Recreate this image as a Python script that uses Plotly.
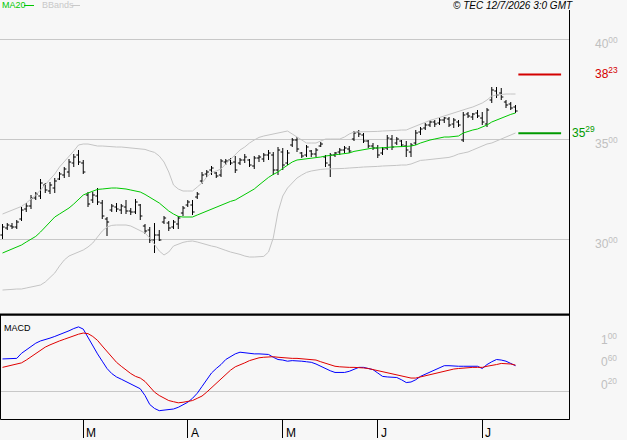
import plotly.graph_objects as go

W, H = 627, 440

# ---------------- data ----------------
month_labels = ["M", "A", "M", "J", "J"]
month_tick_idx = [17, 39, 59, 79, 101]

open_ = [30.20, 30.55, 30.65, 30.60, 31.00, 31.50, 31.65, 32.05, 32.15, 32.70,
         32.40, 32.55, 33.00, 33.20, 33.35, 33.80, 34.20, 33.80, 32.20, 31.95,
         32.15, 31.80, 31.00, 31.45, 31.60, 31.45, 31.60, 31.40, 31.35, 31.70,
         30.65, 30.45, 29.95, 30.20, 30.85, 30.80, 30.60, 30.75, 31.30, 31.70,
         31.70, 32.10, 32.90, 33.25, 33.45, 33.30, 33.20, 33.85, 33.95, 33.85,
         33.80, 33.95, 33.95, 33.65, 34.05, 34.00, 34.20, 34.20, 33.45, 34.35,
         33.80, 34.70, 34.95, 34.30, 34.20, 34.40, 34.25, 34.65, 34.10, 33.70,
         34.20, 34.35, 34.45, 34.50, 35.00, 35.35, 35.20, 34.90, 34.65, 34.55,
         34.30, 34.55, 35.00, 34.80, 34.90, 34.65, 34.35, 34.80, 35.35, 35.55,
         35.70, 35.85, 35.80, 35.95, 36.00, 35.75, 35.85, 34.95, 36.25, 36.10,
         36.30, 36.05, 35.75, 36.95, 37.40, 37.30, 36.85, 36.75, 36.60]
high = [30.75, 30.80, 30.80, 30.95, 31.60, 31.80, 32.20, 32.35, 33.00, 32.80,
        32.85, 33.05, 33.35, 33.60, 34.00, 34.25, 34.45, 33.95, 32.35, 32.35,
        32.55, 31.95, 31.10, 31.75, 31.80, 31.75, 31.95, 31.55, 32.00, 31.75,
        30.75, 30.60, 30.80, 30.45, 31.15, 30.90, 30.95, 31.15, 31.65, 31.95,
        31.95, 32.35, 33.35, 33.45, 33.65, 33.35, 34.00, 34.00, 34.05, 34.15,
        34.05, 34.25, 34.00, 34.15, 34.20, 34.30, 34.45, 34.35, 34.60, 34.55,
        34.45, 35.05, 35.10, 34.35, 34.70, 34.45, 34.55, 34.85, 34.20, 34.30,
        34.35, 34.55, 34.65, 34.65, 35.40, 35.45, 35.30, 34.95, 34.80, 34.70,
        34.60, 35.20, 35.20, 35.10, 34.95, 34.90, 34.80, 35.45, 35.60, 35.80,
        35.95, 35.95, 36.05, 36.10, 36.10, 36.05, 35.95, 36.35, 36.35, 36.30,
        36.45, 36.35, 36.55, 37.60, 37.60, 37.55, 36.95, 36.85, 36.70]
low = [30.00, 30.45, 30.50, 30.50, 30.90, 31.35, 31.50, 31.95, 32.00, 32.30,
       32.25, 32.30, 32.95, 33.05, 33.10, 33.60, 33.70, 33.25, 31.60, 31.80,
       31.70, 31.00, 30.15, 31.35, 31.35, 31.25, 31.25, 31.20, 31.25, 30.95,
       30.25, 29.80, 29.30, 29.90, 30.75, 30.40, 30.50, 30.50, 31.15, 31.60,
       31.20, 32.00, 32.75, 33.10, 33.20, 33.05, 33.10, 33.70, 33.70, 33.30,
       33.70, 33.80, 33.60, 33.50, 33.85, 33.85, 33.95, 33.20, 33.20, 33.45,
       33.70, 34.60, 34.35, 34.05, 34.10, 34.10, 34.10, 34.60, 33.60, 33.10,
       34.10, 34.20, 34.30, 34.30, 34.90, 35.10, 34.80, 34.55, 34.45, 34.05,
       34.20, 34.45, 34.45, 34.70, 34.60, 34.10, 34.10, 34.70, 35.20, 35.45,
       35.60, 35.60, 35.70, 35.80, 35.60, 35.55, 35.60, 34.85, 36.05, 35.95,
       36.05, 35.70, 35.60, 36.80, 37.05, 36.95, 36.55, 36.45, 36.30]
close = [30.60, 30.70, 30.60, 30.85, 31.45, 31.65, 32.05, 32.25, 32.80, 32.45,
         32.70, 32.90, 33.25, 33.50, 33.85, 34.10, 33.85, 33.35, 31.75, 32.20,
         31.85, 31.15, 30.85, 31.65, 31.50, 31.65, 31.40, 31.35, 31.85, 31.15,
         30.40, 29.95, 30.20, 29.95, 31.05, 30.55, 30.85, 31.05, 31.55, 31.85,
         31.35, 32.25, 33.20, 33.35, 33.55, 33.15, 33.90, 33.90, 33.80, 33.45,
         33.95, 34.10, 33.70, 34.05, 34.10, 34.20, 34.30, 33.45, 34.45, 33.70,
         34.30, 34.95, 34.50, 34.15, 34.60, 34.25, 34.45, 34.75, 33.80, 34.20,
         34.30, 34.45, 34.55, 34.40, 35.30, 35.25, 34.90, 34.65, 34.55, 34.20,
         34.50, 35.05, 34.60, 35.00, 34.70, 34.45, 34.70, 35.30, 35.50, 35.70,
         35.85, 35.75, 35.95, 36.05, 35.70, 35.95, 35.70, 36.20, 36.15, 36.25,
         36.15, 35.85, 36.45, 37.45, 37.20, 37.10, 36.70, 36.55, 36.40]

ma20 = [29.30, 29.40, 29.50, 29.60, 29.70, 29.85, 30.00, 30.13, 30.35, 30.60,
        30.85, 31.10, 31.25, 31.40, 31.55, 31.75, 32.00, 32.20, 32.30, 32.40,
        32.48, 32.50, 32.53, 32.55, 32.55, 32.53, 32.50, 32.45, 32.40, 32.35,
        32.23, 32.10, 31.95, 31.80, 31.60, 31.40, 31.25, 31.13, 31.10, 31.10,
        31.10, 31.20, 31.30, 31.38, 31.48, 31.58, 31.68, 31.78, 31.88, 31.95,
        32.08, 32.20, 32.35, 32.50, 32.70, 32.90, 33.08, 33.23, 33.35, 33.53,
        33.70, 33.85, 33.95, 33.98, 34.00, 34.03, 34.05, 34.10, 34.15, 34.18,
        34.20, 34.25, 34.28, 34.30, 34.38, 34.43, 34.45, 34.50, 34.55, 34.55,
        34.58, 34.58, 34.60, 34.60, 34.63, 34.63, 34.65, 34.70, 34.80, 34.88,
        34.95, 35.00, 35.05, 35.10, 35.10, 35.13, 35.15, 35.30, 35.38, 35.45,
        35.50, 35.60, 35.70, 35.85, 35.95, 36.05, 36.13, 36.23, 36.30]
bb_upper = [31.25, 31.35, 31.45, 31.53, 31.63, 31.80, 32.00, 32.20, 32.45, 32.70,
            32.95, 33.25, 33.60, 33.85, 34.10, 34.40, 34.70, 34.75, 34.75, 34.70,
            34.65, 34.65, 34.63, 34.60, 34.60, 34.60, 34.58, 34.55, 34.53, 34.50,
            34.48, 34.40, 34.33, 34.15, 33.85, 33.35, 32.70, 32.50, 32.40, 32.40,
            32.40, 32.60, 32.80, 33.10, 33.33, 33.40, 33.50, 33.75, 34.00, 34.25,
            34.45, 34.60, 34.80, 34.95, 35.08, 35.15, 35.20, 35.25, 35.30, 35.35,
            35.40, 35.25, 35.10, 34.95, 34.80, 34.80, 34.80, 34.90, 35.00, 35.00,
            35.00, 35.00, 35.10, 35.25, 35.35, 35.35, 35.35, 35.35, 35.35, 35.38,
            35.40, 35.40, 35.40, 35.43, 35.45, 35.45, 35.55, 35.65, 35.75, 35.83,
            35.93, 36.00, 36.08, 36.15, 36.23, 36.30, 36.38, 36.45, 36.53, 36.60,
            36.70, 36.80, 36.95, 37.15, 37.20, 37.23, 37.25, 37.25, 37.25]
bb_lower = [27.45, 27.45, 27.48, 27.50, 27.50, 27.55, 27.60, 27.65, 27.70, 27.85,
            28.10, 28.30, 28.65, 28.95, 29.15, 29.25, 29.35, 29.45, 29.60, 29.80,
            30.10, 30.40, 30.60, 30.68, 30.70, 30.70, 30.70, 30.65, 30.53, 30.40,
            30.30, 30.05, 29.75, 29.40, 29.20, 29.35, 29.65, 29.75, 29.83, 29.88,
            29.90, 29.85, 29.78, 29.70, 29.65, 29.60, 29.50, 29.43, 29.35, 29.30,
            29.23, 29.15, 29.10, 29.10, 29.10, 29.13, 29.35, 30.05, 31.35, 32.15,
            32.55, 32.80, 33.05, 33.20, 33.33, 33.40, 33.45, 33.48, 33.50, 33.50,
            33.50, 33.50, 33.53, 33.55, 33.55, 33.58, 33.60, 33.60, 33.63, 33.63,
            33.65, 33.65, 33.65, 33.68, 33.70, 33.70, 33.75, 33.85, 33.93, 33.95,
            33.98, 34.00, 34.03, 34.05, 34.08, 34.15, 34.25, 34.30, 34.35, 34.45,
            34.55, 34.65, 34.75, 34.80, 34.90, 35.00, 35.10, 35.20, 35.30]

macd = [0.57, 0.57, 0.57, 0.58, 0.67, 0.73, 0.79, 0.85, 0.89, 0.91,
        0.94, 0.97, 1.00, 1.03, 1.07, 1.11, 1.14, 1.10, 0.95, 0.80,
        0.66, 0.53, 0.40, 0.31, 0.25, 0.21, 0.17, 0.13, 0.09, 0.04,
        -0.08, -0.24, -0.31, -0.35, -0.34, -0.33, -0.32, -0.29, -0.25, -0.20,
        -0.13, -0.04, 0.08, 0.21, 0.32, 0.40, 0.47, 0.56, 0.61, 0.66,
        0.69, 0.68, 0.66, 0.66, 0.66, 0.66, 0.65, 0.60, 0.56, 0.55,
        0.53, 0.54, 0.54, 0.53, 0.52, 0.51, 0.48, 0.44, 0.39, 0.36,
        0.33, 0.33, 0.33, 0.35, 0.39, 0.42, 0.42, 0.40, 0.38, 0.32,
        0.26, 0.25, 0.25, 0.24, 0.20, 0.15, 0.16, 0.20, 0.26, 0.30,
        0.34, 0.38, 0.42, 0.45, 0.45, 0.44, 0.44, 0.44, 0.44, 0.45,
        0.44, 0.40, 0.47, 0.52, 0.56, 0.55, 0.53, 0.49, 0.45]
signal = [0.42, 0.44, 0.45, 0.47, 0.50, 0.55, 0.61, 0.67, 0.73, 0.78,
          0.82, 0.86, 0.89, 0.92, 0.95, 0.99, 1.01, 1.03, 1.02, 0.97,
          0.90, 0.80, 0.70, 0.60, 0.51, 0.44, 0.37, 0.31, 0.26, 0.23,
          0.17, 0.07, -0.02, -0.08, -0.13, -0.17, -0.19, -0.21, -0.20, -0.19,
          -0.17, -0.13, -0.09, -0.02, 0.06, 0.14, 0.22, 0.30, 0.37, 0.43,
          0.46, 0.50, 0.54, 0.57, 0.59, 0.60, 0.61, 0.61, 0.60, 0.59,
          0.59, 0.58, 0.58, 0.57, 0.57, 0.56, 0.55, 0.52, 0.49, 0.47,
          0.44, 0.43, 0.42, 0.42, 0.42, 0.42, 0.41, 0.40, 0.38, 0.36,
          0.34, 0.32, 0.30, 0.28, 0.26, 0.24, 0.23, 0.23, 0.25, 0.27,
          0.29, 0.31, 0.34, 0.36, 0.37, 0.39, 0.40, 0.41, 0.41, 0.42,
          0.42, 0.42, 0.44, 0.45, 0.47, 0.49, 0.49, 0.48, 0.46]

price_ticks = [30, 35, 40]
price_tick_labels = [("30", "00"), ("35", "00"), ("40", "00")]
macd_ticks = [0.2, 0.6, 1.0]
macd_tick_labels = [("0", "20"), ("0", "60"), ("1", "00")]
levels = [38.23, 35.29]
level_labels = [("38", "23"), ("35", "29")]
level_colors = ["#d40000", "#009a00"]

# ---------------- layout helpers ----------------
def px(x):
    return x / W

def py(y):
    return 1 - y / H

FONT = "Liberation Sans, Arial, sans-serif"
BG = "#f7f7f7"
GRID = "#c8c8c8"
LABEL = "#c0c0c0"

idx = list(range(len(close)))

fig = go.Figure()

fig.add_trace(go.Scatter(x=idx, y=bb_upper, mode="lines", line=dict(color="#c4c4c4", width=1),
                         xaxis="x", yaxis="y", hoverinfo="skip"))
fig.add_trace(go.Scatter(x=idx, y=bb_lower, mode="lines", line=dict(color="#c4c4c4", width=1),
                         xaxis="x", yaxis="y", hoverinfo="skip"))
fig.add_trace(go.Scatter(x=idx, y=ma20, mode="lines", line=dict(color="#00c800", width=1),
                         xaxis="x", yaxis="y", hoverinfo="skip"))
fig.add_trace(go.Ohlc(x=idx, open=open_, high=high, low=low, close=close,
                      increasing=dict(line=dict(color="black", width=1)),
                      decreasing=dict(line=dict(color="black", width=1)),
                      tickwidth=0.45, xaxis="x", yaxis="y"))
fig.add_trace(go.Scatter(x=idx, y=macd, mode="lines", line=dict(color="#0000ff", width=1),
                         xaxis="x", yaxis="y2", hoverinfo="skip"))
fig.add_trace(go.Scatter(x=idx, y=signal, mode="lines", line=dict(color="#e00000", width=1),
                         xaxis="x", yaxis="y2", hoverinfo="skip"))

x_lo = -2.5 / 4.75
x_hi = (569 - 2.5) / 4.75
shapes = []
annotations = []

# level lines
for lv, col in zip(levels, level_colors):
    shapes.append(dict(type="line", xref="x", yref="y", x0=108.6, x1=117.6, y0=lv, y1=lv,
                       line=dict(color=col, width=2)))

# frame lines
shapes.append(dict(type="rect", xref="paper", yref="paper", x0=px(0.5), x1=px(569.5),
                   y0=py(419.5), y1=py(315), line=dict(color="black", width=1)))
shapes.append(dict(type="line", xref="paper", yref="paper", x0=px(0), x1=px(570),
                   y0=py(314.5), y1=py(314.5), line=dict(color="black", width=2)))
shapes.append(dict(type="line", xref="paper", yref="paper", x0=px(569.5), x1=px(569.5),
                   y0=py(10), y1=py(419.5), line=dict(color="black", width=1)))
# legend dashes
shapes.append(dict(type="line", xref="paper", yref="paper", x0=px(24), x1=px(34),
                   y0=py(5.5), y1=py(5.5), line=dict(color="#00c800", width=1)))
shapes.append(dict(type="line", xref="paper", yref="paper", x0=px(72), x1=px(80),
                   y0=py(5.5), y1=py(5.5), line=dict(color="#c8c8c8", width=1)))

def ann(text, x, y, color="black", size=10, xanchor="left", yanchor="middle",
        xref="paper", yref="paper", **kw):
    d = dict(text=text, x=x, y=y, xref=xref, yref=yref,
             showarrow=False, xanchor=xanchor, yanchor=yanchor,
             font=dict(family=FONT, size=size, color=color))
    d.update(kw)
    annotations.append(d)

ann("MA20", px(0), py(5.5), color="#00c800", size=9)
ann("BBands", px(40), py(5.5), color="#c8c8c8", size=9)
ann("<i>© TEC 12/7/2026 3:0 GMT</i>", px(575), py(5.5), color="black", size=10, xanchor="right")

for v, (a, b) in zip(price_ticks, price_tick_labels):
    ann(f"{a}<sup>{b}</sup>", px(593), v, color=LABEL, size=12, yref="y", yshift=-4)
for v, (a, b), col in zip(levels, level_labels, level_colors):
    xx = 593 if v > 36 else 570
    ann(f"{a}<sup>{b}</sup>", px(xx), v, color=col, size=12, yref="y", yshift=1)
for v, (a, b) in zip(macd_ticks, macd_tick_labels):
    ann(f"{a}<sup>{b}</sup>", px(599), v, color=LABEL, size=12, yref="y2", yshift=-4)

ann("MACD", px(2), py(328), color="black", size=9)
for t, i in zip(month_labels, month_tick_idx):
    ann(t, i, py(433), color="black", size=12, xref="x", xshift=1)

fig.update_layout(
    width=W, height=H,
    margin=dict(l=0, r=0, t=0, b=0),
    font=dict(family=FONT, size=10, color="black"),
    paper_bgcolor=BG, plot_bgcolor=BG,
    showlegend=False,
    shapes=shapes, annotations=annotations,
    xaxis=dict(domain=[0, 569 / W], range=[x_lo, x_hi], anchor="y2",
               tickvals=month_tick_idx, ticks="outside", ticklen=18, tickwidth=1,
               tickcolor="black", showticklabels=False, showgrid=False, zeroline=False,
               showline=False, rangeslider=dict(visible=False), fixedrange=True),
    yaxis=dict(domain=[py(314.5), py(10)], range=[35 - (314.5 - 139) / 20, 35 + (139 - 10) / 20],
               tickvals=price_ticks, showticklabels=False, showgrid=True, gridcolor=GRID,
               gridwidth=1, zeroline=False, showline=False, anchor="x", fixedrange=True),
    yaxis2=dict(domain=[py(419), py(315)], range=[(391 - 419) / 56.25, (391 - 315) / 56.25],
                tickvals=[0], showticklabels=False, showgrid=True, gridcolor=GRID,
                gridwidth=1, zeroline=False, showline=False, anchor="x", fixedrange=True),
)

fig.write_html("out.html")
